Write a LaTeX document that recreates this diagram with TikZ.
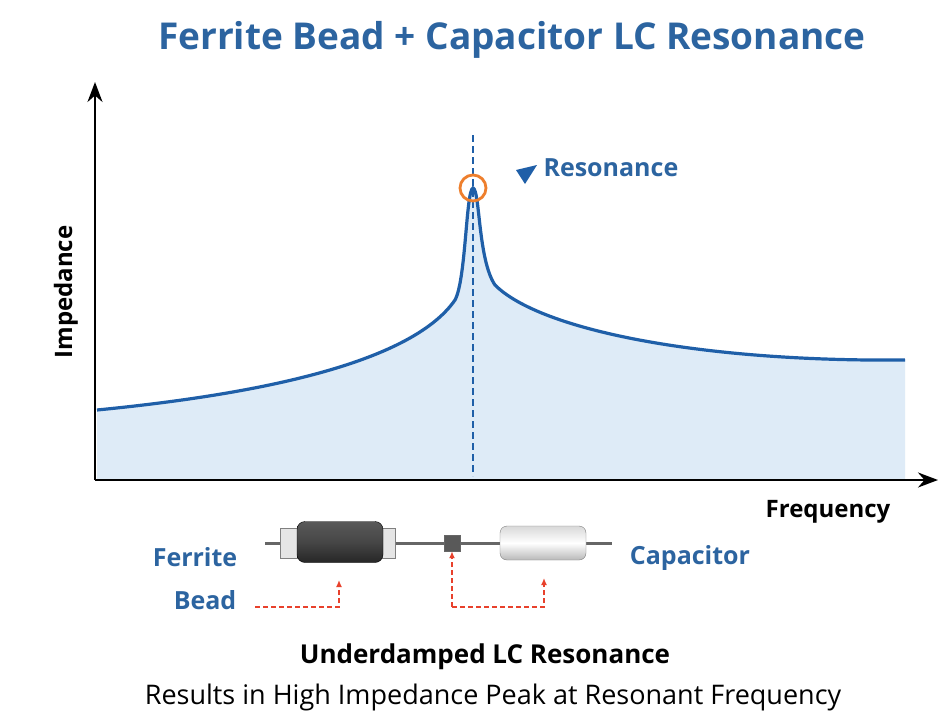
\documentclass[tikz,border=0pt]{standalone}
\usepackage{fontspec}
\setmainfont{Open Sans}
\usetikzlibrary{arrows.meta,positioning}
\definecolor{titleblue}{HTML}{2C64A0}
\definecolor{curveblue}{HTML}{1F5FA8}
\definecolor{fillblue}{HTML}{D6E6F5}
\definecolor{markorange}{HTML}{EE7F2D}
\definecolor{pointred}{HTML}{E8412C}
\begin{document}
\begin{tikzpicture}[x=1pt,y=-1pt,
    label/.style={font=\bfseries\fontsize{25}{28}\selectfont,text=titleblue},
    pointer/.style={pointred,line width=1.4pt,dash pattern=on 5pt off 3pt,-{Latex[length=7pt,width=6pt]}}]
  \useasboundingbox[fill=white] (0,0) rectangle (938,726);
  % title
  \node[font=\bfseries\fontsize{37}{42}\selectfont,text=titleblue] (title) at (512,40) {Ferrite Bead + Capacitor LC Resonance};
  % curve
  \fill[fillblue,opacity=0.8] (97,410) .. controls (250,395) and (410,365) .. (455,300)
    .. controls (466,280) and (466,190) .. (473,188)
    .. controls (480,190) and (478,260) .. (495,285)
    .. controls (540,330) and (700,362) .. (905,360) -- (905,480) -- (97,480) -- cycle;
  \draw[curveblue,line width=3.2pt] (97,410) .. controls (250,395) and (410,365) .. (455,300)
    .. controls (466,280) and (466,190) .. (473,188)
    .. controls (480,190) and (478,260) .. (495,285)
    .. controls (540,330) and (700,362) .. (905,360);
  % axes
  \coordinate (origin) at (95,480);
  \coordinate (ytop) at (95,82);
  \coordinate (xend) at (938,480);
  \draw[line width=2.2pt,-{Stealth[length=20pt,width=15pt]}] (origin) -- (ytop);
  \draw[line width=2.2pt,-{Stealth[length=20pt,width=15pt]}] (origin) -- (xend);
  \node[rotate=90,font=\bfseries\fontsize{24}{28}\selectfont] (ylab) at (66,292) {Impedance};
  \node[font=\bfseries\fontsize{24}{28}\selectfont] (xlab) at (828,512) {Frequency};
  % resonance
  \coordinate (dtop) at (473,135);
  \coordinate (dbot) at (473,476);
  \draw[curveblue,line width=1.4pt,dash pattern=on 7pt off 4pt] (dtop) -- (dbot);
  \node[circle,draw=markorange,line width=2.8pt,minimum size=26pt,inner sep=0pt] (peak) at (473,188) {};
  \fill[curveblue] (516,170) -- (537,165) -- (525,184) -- cycle;
  \node[label,anchor=west] (res) at (540,168) {Resonance};
  % components
  \coordinate (wl) at (265,543);
  \coordinate (wr) at (612,543);
  \draw[line width=3pt,gray!80!black] (wl) -- (wr);
  \node[draw=gray,fill=gray!20,minimum width=115pt,minimum height=30pt,inner sep=0pt] (caps) at (338,543) {};
  \node[draw=black,rounded corners=8pt,top color=gray!70!black,bottom color=black!85,middle color=gray!55!black,minimum width=86pt,minimum height=41pt,inner sep=0pt] (bead) at (340,542) {};
  \node[draw=black!60,fill=black!65,minimum size=16pt,inner sep=0pt] (junc) at (452,543) {};
  \node[draw=gray,rounded corners=7pt,top color=gray!30,bottom color=gray!55,middle color=white,minimum width=86pt,minimum height=34pt,inner sep=0pt] (cap) at (543,543) {};
  \node[label] (lfer) at (195,557) {Ferrite};
  \node[label] (lbead) at (205,600) {Bead};
  \node[label] (lcap) at (690,558) {Capacitor};
  \coordinate (p1) at (255,607);
  \coordinate (p2) at (339,607);
  \coordinate (p3) at (339,580);
  \draw[pointer] (p1) -- (p2) -- (p3);
  \coordinate (q1) at (544,607);
  \coordinate (q2) at (452,607);
  \draw[pointer] (q2) -- (junc.south);
  \draw[pointer] (q2) -- (q1) -- (544,578);
  % caption
  \node[font=\bfseries\fontsize{26}{30}\selectfont] (cap1) at (485,657) {Underdamped LC Resonance};
  \node[font=\fontsize{27}{30}\selectfont] (cap2) at (493,697) {Results in High Impedance Peak at Resonant Frequency};
\end{tikzpicture}
\end{document}
